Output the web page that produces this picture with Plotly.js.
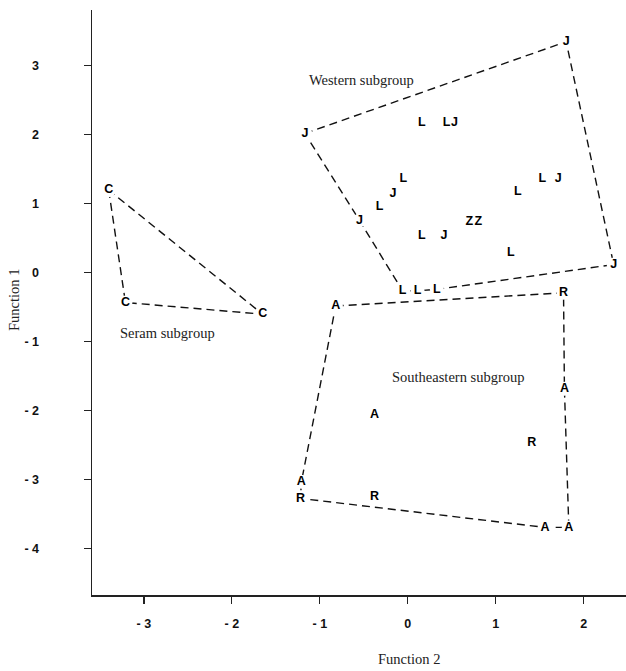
<!DOCTYPE html>
<html>
<head>
<meta charset="utf-8">
<script src="https://cdn.plot.ly/plotly-3.0.1.min.js"></script>
<style>
  html, body { margin: 0; padding: 0; background: #fff; }
  #chart { width: 626px; height: 671px; }
</style>
</head>
<body>
<div id="chart"></div>
<script>
// Western subgroup
const westLabels = ['J','J','L','L','J','L','J','L','J','Z','Z','L','J','L','L','J','L','J','L','L','L'];
const westX = [-1.17, 1.80, 0.16, 0.44, 0.53, -0.05, -0.17, -0.32, -0.55, 0.70, 0.80, 0.16, 0.41, 1.25, 1.53, 1.71, 1.17, 2.34, -0.06, 0.11, 0.33];
const westY = [2.02, 3.35, 2.17, 2.17, 2.17, 1.36, 1.14, 0.95, 0.76, 0.74, 0.74, 0.53, 0.53, 1.17, 1.36, 1.36, 0.29, 0.12, -0.26, -0.26, -0.24];
const westHull = [0, 1, 17, 20, 19, 18, 8, 0];

// Seram subgroup
const seramLabels = ['C','C','C'];
const seramX = [-3.40, -3.21, -1.65];
const seramY = [1.20, -0.43, -0.60];
const seramHull = [0, 1, 2, 0];

// Southeastern subgroup
const seLabels = ['A','R','A','A','R','A','R','R','A','A'];
const seX = [-0.82, 1.77, 1.78, -0.38, 1.41, -1.21, -1.22, -0.38, 1.56, 1.83];
const seY = [-0.48, -0.29, -1.68, -2.06, -2.46, -3.03, -3.27, -3.25, -3.69, -3.69];
const seHull = [0, 1, 2, 9, 8, 6, 5, 0];

// Axis ticks
const xTickVals = [-3, -2, -1, 0, 1, 2];
const xTickText = ['- 3', '- 2', '- 1', '0', '1', '2'];
const yTickVals = [3, 2, 1, 0, -1, -2, -3, -4];
const yTickText = ['3', '2', '1', '0', '- 1', '- 2', '- 3', '- 4'];

const groups = [
  {name: 'Western subgroup', labels: westLabels, x: westX, y: westY, hull: westHull},
  {name: 'Seram subgroup', labels: seramLabels, x: seramX, y: seramY, hull: seramHull},
  {name: 'Southeastern subgroup', labels: seLabels, x: seX, y: seY, hull: seHull}
];

const traces = [];
groups.forEach(g => {
  traces.push({
    type: 'scatter', mode: 'lines+markers', showlegend: false, hoverinfo: 'skip',
    x: g.hull.map(i => g.x[i]), y: g.hull.map(i => g.y[i]),
    line: {color: '#111', width: 1.4, dash: '8px,5px'},
    marker: {color: '#fff', size: 14, line: {width: 0}}
  });
});
groups.forEach(g => {
  traces.push({
    type: 'scatter', mode: 'text', showlegend: false, name: g.name,
    x: g.x, y: g.y, text: g.labels, textposition: 'middle center',
    textfont: {family: 'Liberation Sans, Arial, sans-serif', size: 12.5, color: '#000', weight: 'bold'}
  });
});

const serif = 'Liberation Serif, Times New Roman, serif';
const sans = 'Liberation Sans, Arial, sans-serif';
const layout = {
  width: 626, height: 671,
  margin: {l: 92, r: 0, t: 10, b: 76},
  paper_bgcolor: '#fff', plot_bgcolor: '#fff',
  showlegend: false,
  xaxis: {
    range: [-3.59, 2.48], showgrid: false, zeroline: false,
    showline: true, linecolor: '#222', linewidth: 1.5,
    ticks: 'outside', ticklen: 7, tickcolor: '#222', tickwidth: 1.2,
    tickvals: xTickVals, ticktext: xTickText, ticklabelstandoff: 9,
    tickfont: {family: sans, size: 12.5, color: '#111', weight: 'bold'}
  },
  yaxis: {
    range: [-4.67, 3.81], showgrid: false, zeroline: false,
    showline: true, linecolor: '#222', linewidth: 1.5,
    ticks: 'outside', ticklen: 7, tickcolor: '#222', tickwidth: 1.2,
    tickvals: yTickVals, ticktext: yTickText, ticklabelstandoff: 42,
    tickfont: {family: sans, size: 12.5, color: '#111', weight: 'bold'}
  },
  annotations: [
    {text: 'Western subgroup', x: -0.53, y: 2.80, xref: 'x', yref: 'y', showarrow: false,
     xanchor: 'center', yanchor: 'middle', font: {family: serif, size: 14.5, color: '#222'}},
    {text: 'Seram subgroup', x: -2.73, y: -0.87, xref: 'x', yref: 'y', showarrow: false,
     xanchor: 'center', yanchor: 'middle', font: {family: serif, size: 14.5, color: '#222'}},
    {text: 'Southeastern subgroup', x: 0.58, y: -1.51, xref: 'x', yref: 'y', showarrow: false,
     xanchor: 'center', yanchor: 'middle', font: {family: serif, size: 14.5, color: '#222'}},
    {text: 'Function 2', x: 0, y: 0, xref: 'paper', yref: 'paper', showarrow: false,
     xanchor: 'center', yanchor: 'middle', font: {family: serif, size: 14.5, color: '#222'}},
    {text: 'Function 1', textangle: -90, x: 0, y: 0, xref: 'paper', yref: 'paper', showarrow: false,
     xanchor: 'center', yanchor: 'middle', font: {family: serif, size: 14.5, color: '#222'}}
  ]
};
// position axis-title annotations in pixels relative to the plot area
const plotW = 626 - 92, plotH = 671 - 10 - 76;
layout.annotations[3].x = (409 - 92) / plotW;
layout.annotations[3].y = -(659 - 595) / plotH;
layout.annotations[4].x = (14 - 92) / plotW;
layout.annotations[4].y = (595 - 300) / plotH;

Plotly.newPlot('chart', traces, layout, {displayModeBar: false, staticPlot: true});
</script>
</body>
</html>
